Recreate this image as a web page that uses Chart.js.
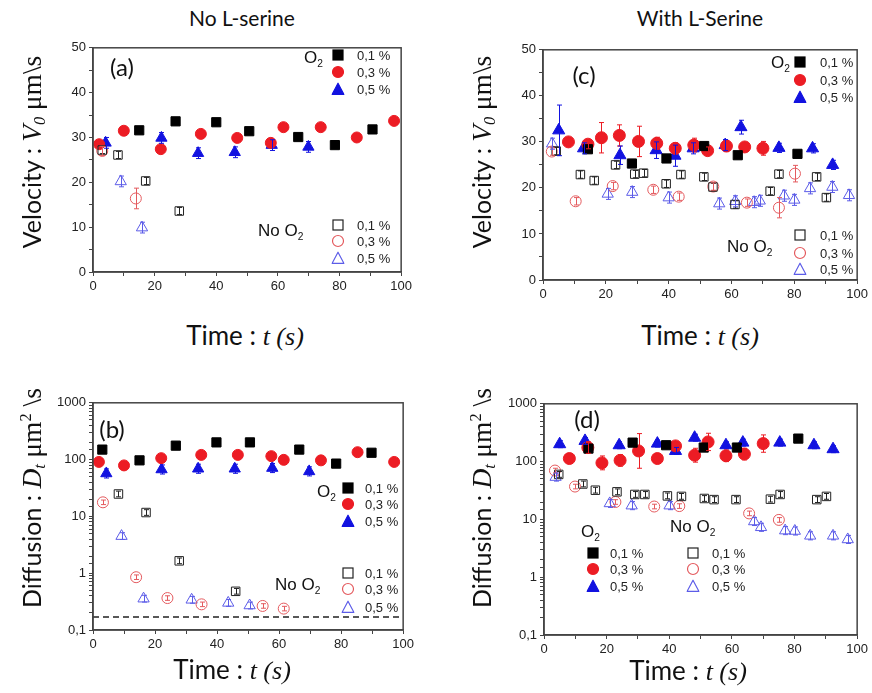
<!DOCTYPE html>
<html>
<head>
<meta charset="utf-8">
<script src="https://cdn.jsdelivr.net/npm/chart.js@4.4.0/dist/chart.umd.min.js"></script>
<style>
  body { margin: 0; background: #fff; width: 872px; height: 693px; overflow: hidden; position: relative; font-family: Lato, "Open Sans", sans-serif; color: #111; }
  canvas { position: absolute; }
  .t { position: absolute; white-space: nowrap; transform: translate(-50%, -50%); line-height: 1; }
  .title { font-size: 21px; }
  .xlab { font-size: 26px; }
  .ylab { font-size: 25px; transform: translate(-50%, -50%) rotate(-90deg); }
  .s { font-family: "Liberation Serif", "DejaVu Serif", serif; }
  .ylab .s { font-size: 1.1em; }
  .ylab sub, .xlab sub { font-size: 0.6em; vertical-align: -0.25em; }
  .ylab sup { font-size: 0.6em; vertical-align: 0.6em; }
  .letter { font-size: 24px; }
  .lg { position: absolute; font-family: "Liberation Sans", Arial, sans-serif; font-size: 13px; white-space: nowrap; line-height: 1; transform: translateY(-50%); color: #222; }
  .lgh { position: absolute; font-family: "Liberation Sans", Arial, sans-serif; font-size: 17px; white-space: nowrap; line-height: 1; transform: translateY(-50%); color: #111; }
  .lgh sub { font-size: 0.6em; vertical-align: -0.35em; }
  .mk { position: absolute; transform: translate(-50%, -50%); line-height: 0; }
</style>
</head>
<body>
<canvas id="chA" width="372" height="261" style="left:43px;top:37px"></canvas>
<canvas id="chC" width="378" height="267" style="left:493px;top:39px"></canvas>
<canvas id="chB" width="374" height="264" style="left:43px;top:392px"></canvas>
<canvas id="chD" width="377" height="268" style="left:494px;top:393px"></canvas>

<div class="t title" style="left:242px;top:17px">No L-serine</div>
<div class="t title" style="left:700px;top:17px">With L-Serine</div>

<div class="t ylab" style="left:33px;top:152px">Velocity : <i class="s">V<sub>0</sub></i> <span class="s">μm\s</span></div>
<div class="t ylab" style="left:483px;top:152px">Velocity : <i class="s">V<sub>0</sub></i> <span class="s">μm\s</span></div>
<div class="t ylab" style="left:33px;top:498px">Diffusion : <i class="s">D<sub>t</sub></i> <span class="s">μm<sup>2</sup> \s</span></div>
<div class="t ylab" style="left:483px;top:498px">Diffusion : <i class="s">D<sub>t</sub></i> <span class="s">μm<sup>2</sup> \s</span></div>

<div class="t xlab" style="left:245px;top:336px">Time : <i class="s">t (s)</i></div>
<div class="t xlab" style="left:700px;top:336px">Time : <i class="s">t (s)</i></div>
<div class="t xlab" style="left:232px;top:670px">Time : <i class="s">t (s)</i></div>
<div class="t xlab" style="left:688px;top:671px">Time : <i class="s">t (s)</i></div>

<div class="t letter" style="left:122px;top:67px">(a)</div>
<div class="t letter" style="left:584px;top:75px">(c)</div>
<div class="t letter" style="left:112px;top:429px">(b)</div>
<div class="t letter" style="left:587px;top:419px">(d)</div>

<div id="legends"></div>

<script>
// ========== data : panel (a) velocity, no L-serine ==========
const A_O2_01 = [[15, 31.6], [26.8, 33.6], [40, 33.4], [50.7, 31.4], [66.6, 30.1], [78.5, 28.3], [90.7, 31.8]];
const A_O2_03 = [[2, 28.5], [10, 31.5], [22, 27.4], [35, 30.8], [46.8, 29.9], [57.7, 28.8], [61.8, 32.3], [73.9, 32.3], [85.6, 30], [97.7, 33.7]];
const A_O2_05 = [[4.1, 28.8], [22.2, 29.9], [34.1, 26.5], [46, 26.7], [58, 28.3], [69.9, 27.9]];
const A_NO_01 = [[3, 27.2], [8.1, 26.1], [17.1, 20.3], [28, 13.6]];
const A_NO_03 = [[3, 27], [13.9, 16.4]];
const A_NO_05 = [[9, 20.2], [15.9, 9.9]];
const A_ERR_NO_03 = [1, 2.3];

// ========== data : panel (c) velocity, with L-serine ==========
const C_O2_01 = [[14.3, 28.4], [28.3, 25.3], [39.3, 26.4], [51.3, 29.1], [62, 27.1], [81, 27.4]];
const C_O2_03 = [[8.1, 30], [14.3, 29.5], [18.6, 30.9], [24.3, 31.4], [30.4, 30.1], [36.2, 29.7], [42.1, 28.6], [48, 29.3], [52.4, 28.1], [58.4, 29.1], [64.2, 28.9], [70, 28.6]];
const C_O2_05 = [[5, 32.5], [12.9, 28.6], [24.5, 27.1], [36, 28.2], [42, 27], [47.8, 28.6], [58, 29.3], [63, 33.2], [75.1, 28.7], [85.8, 28.6], [92.2, 25]];
const C_NO_01 = [[4.2, 28], [11.9, 22.9], [16.3, 21.6], [23.1, 25], [29.2, 23], [32, 23.2], [39.2, 20.9], [43.9, 22.9], [51.2, 22.4], [54.1, 20.2], [61.1, 16.4], [72.3, 19.3], [75.1, 23], [87.1, 22.4], [90.2, 17.9]];
const C_NO_03 = [[2.8, 27.9], [10.4, 17.1], [22.2, 20.4], [35.1, 19.6], [43.2, 18.1], [54.2, 20.3], [64.9, 16.8], [75.1, 15.7], [80.2, 23.1]];
const C_NO_05 = [[2.9, 29.6], [20.6, 18.7], [28.4, 19.1], [40, 17.9], [56.1, 16.6], [61.2, 17.1], [67.2, 16.9], [69, 17.2], [76.7, 18.3], [80, 17.4], [85, 19.9], [92.1, 20.2], [97.4, 18.4]];
const C_ERR_O2_03 = [0.8, 1, 3.3, 2.3, 3.3, 1.3, 1.2, 1.5, 0.8, 1.2, 0.8, 1.5];
const C_ERR_O2_05 = [5.5, 1.2, 2, 1.8, 2.3, 1.2, 1.2, 1.5, 1, 1, 1];
const C_ERR_NO_03 = [0.8, 0.8, 0.8, 0.8, 0.8, 0.8, 0.8, 2.2, 1.8];

// ========== data : panel (b) diffusion, no L-serine ==========
const B_O2_01 = [[3, 150], [15, 97], [26.7, 176], [39.8, 201], [50.6, 201], [66.5, 150], [78.4, 85], [89.8, 132]];
const B_O2_03 = [[1.9, 91], [10, 79], [22, 106], [34.9, 121], [46.7, 121], [57.5, 115], [61.5, 99], [73.5, 97], [85.3, 135], [97.1, 91]];
const B_O2_05 = [[4.3, 57], [22.1, 67], [33.9, 69], [45.7, 69], [57.8, 71], [69.7, 62]];
const B_NO_01 = [[8.2, 24.8], [17.1, 11.7], [27.8, 1.65], [46, 0.48]];
const B_NO_03 = [[3.2, 17.7], [13.9, 0.85], [24, 0.365], [35, 0.283], [54.7, 0.265], [61.5, 0.238]];
const B_NO_05 = [[9.2, 4.5], [16.3, 0.356], [31.8, 0.34], [43.6, 0.3], [50.5, 0.27]];
const B_FLOOR = 0.17;

// ========== data : panel (d) diffusion, with L-serine ==========
const D_O2_01 = [[14.2, 168], [28.3, 213], [39, 192], [51, 175], [61.6, 175], [81.2, 250]];
const D_O2_03 = [[8.1, 113], [14, 175], [18.5, 95], [24.3, 105], [30.2, 153], [36.2, 113], [42, 187], [48.1, 129], [52.4, 219], [58.1, 126], [64, 135], [70, 205]];
const D_O2_05 = [[5, 200], [13.1, 228], [24, 192], [36.2, 205], [42, 153], [48.1, 259], [58.1, 192], [63.5, 213], [75.3, 213], [86.2, 192], [92.3, 164]];
const D_NO_01 = [[4.7, 60], [12.4, 41], [16.4, 32], [23.3, 30], [29, 27], [32.2, 27], [39.4, 25.5], [43.9, 25], [51.2, 23], [54.3, 22], [61.3, 22], [72.3, 22.4], [75.4, 27], [87.1, 22], [90.2, 25]];
const D_NO_03 = [[3.5, 70], [9.9, 37], [22.8, 20], [35.2, 16.7], [43.2, 17], [65.5, 12.7], [75, 9.8]];
const D_NO_05 = [[3.7, 54], [21, 18.9], [28, 17.3], [40.1, 17.3], [67.1, 9.2], [69.3, 7.3], [77, 6.4], [80.1, 6.3], [85, 5.2], [92.3, 5.2], [97, 4.5]];
const D_ERR_O2_03 = [0.08, 0.1, 0.12, 0.1, 0.3, 0.08, 0.06, 0.12, 0.15, 0.1, 0.1, 0.15];

// ========== axis ticks ==========
const X_MIN = 0, X_MAX = 100, X_STEP = 10, X_LABEL_EVERY = 20;
const V_MIN = 0, V_MAX = 50, V_STEP = 5, V_LABEL_EVERY = 10;
const D_MIN = 0.1, D_MAX = 1000;

// ========== styles ==========
const BLACK = "#000000", RED = "#ec1c24", BLUE = "#1212e0";
const BLACK_O = "#222222", RED_O = "#e45a5e", BLUE_O = "#5c5ce8";
const AXIS = "#444444";
const TICK_FONT = { family: "'Liberation Sans', Arial, sans-serif", size: 13 };

const pts = (arr) => arr.map(([x, y]) => ({ x, y }));

function filled(data, shape, color, radius, err) {
  return { data: pts(data), pointStyle: shape, pointRadius: radius, backgroundColor: color,
    borderColor: color, borderWidth: 1, clip: false, err };
}
function open(data, shape, color, radius, err) {
  return { data: pts(data), pointStyle: shape, pointRadius: radius, backgroundColor: "rgba(255,255,255,0)",
    borderColor: color, borderWidth: 1, clip: false, err };
}

// ========== plugins ==========
const framePlugin = {
  id: "frame",
  afterDraw(chart) {
    const { ctx, chartArea: a } = chart;
    ctx.save();
    ctx.strokeStyle = AXIS;
    ctx.lineWidth = 1.5;
    ctx.strokeRect(a.left, a.top, a.right - a.left, a.bottom - a.top);
    ctx.restore();
  },
};

// err is absolute on linear axes, in decades on log axes
const errorBarPlugin = {
  id: "errbars",
  afterDatasetsDraw(chart) {
    const { ctx } = chart;
    const xs = chart.scales.x, ys = chart.scales.y;
    const isLog = ys.type === "logarithmic";
    chart.data.datasets.forEach((ds) => {
      if (ds.err == null) return;
      ctx.save();
      ctx.strokeStyle = ds.borderColor;
      ctx.lineWidth = 1;
      ds.data.forEach((p, i) => {
        const e = Array.isArray(ds.err) ? ds.err[i] : ds.err;
        const lo = isLog ? p.y / Math.pow(10, e) : p.y - e;
        const hi = isLog ? p.y * Math.pow(10, e) : p.y + e;
        const px = Math.round(xs.getPixelForValue(p.x)) + 0.5;
        const y1 = ys.getPixelForValue(lo), y2 = ys.getPixelForValue(hi);
        ctx.beginPath();
        ctx.moveTo(px, y1); ctx.lineTo(px, y2);
        ctx.moveTo(px - 2.5, y1); ctx.lineTo(px + 2.5, y1);
        ctx.moveTo(px - 2.5, y2); ctx.lineTo(px + 2.5, y2);
        ctx.stroke();
      });
      ctx.restore();
    });
  },
};

// ========== chart factory ==========
function xAxis() {
  return {
    type: "linear", min: X_MIN, max: X_MAX,
    ticks: { stepSize: X_STEP, autoSkip: false, maxRotation: 0, padding: 3, color: "#222", font: TICK_FONT,
      callback: (v) => (v % X_LABEL_EVERY === 0 ? v : "") },
    grid: { drawOnChartArea: false, tickLength: 4, color: AXIS },
    border: { color: AXIS, width: 1.5 },
    afterFit: (s) => { s.height = 26; },
  };
}
function velAxis() {
  return {
    type: "linear", min: V_MIN, max: V_MAX,
    ticks: { stepSize: V_STEP, autoSkip: false, padding: 3, color: "#222", font: TICK_FONT,
      callback: (v) => (v % V_LABEL_EVERY === 0 ? v : "") },
    grid: { drawOnChartArea: false, tickLength: 4, color: AXIS },
    border: { color: AXIS, width: 1.5 },
    afterFit: (s) => { s.width = 50; },
  };
}
function difAxis() {
  return {
    type: "logarithmic", min: D_MIN, max: D_MAX,
    ticks: { autoSkip: false, padding: 3, color: "#222", font: TICK_FONT,
      callback: (v) => {
        const l = Math.log10(v);
        if (Math.abs(l - Math.round(l)) > 1e-6) return "";
        return v < 1 ? String(v).replace(".", ",") : String(Math.round(v));
      } },
    grid: { drawOnChartArea: false, tickLength: 4, color: AXIS },
    border: { color: AXIS, width: 1.5 },
    afterFit: (s) => { s.width = 50; },
  };
}

function makePanel(id, datasets, yAxis) {
  return new Chart(document.getElementById(id), {
    type: "scatter",
    data: { datasets },
    options: {
      responsive: false,
      animation: false,
      events: [],
      layout: { padding: { top: 8, right: 12, left: 0, bottom: 0 } },
      plugins: { legend: { display: false }, tooltip: { enabled: false } },
      scales: { x: xAxis(), y: yAxis },
    },
    plugins: [errorBarPlugin, framePlugin],
  });
}

// ========== panels ==========
makePanel("chA", [
  open(A_NO_01, "rect", BLACK_O, 6, 0.8),
  open(A_NO_03, "circle", RED_O, 5.5, A_ERR_NO_03),
  open(A_NO_05, "triangle", BLUE_O, 6.5, 1.2),
  filled(A_O2_01, "rect", BLACK, 6.5),
  filled(A_O2_03, "circle", RED, 5.5),
  filled(A_O2_05, "triangle", BLUE, 6.5, 1.2),
], velAxis());

makePanel("chC", [
  open(C_NO_01, "rect", BLACK_O, 6, 0.8),
  open(C_NO_03, "circle", RED_O, 5.5, C_ERR_NO_03),
  open(C_NO_05, "triangle", BLUE_O, 6.5, 1.2),
  filled(C_O2_01, "rect", BLACK, 6.5),
  filled(C_O2_03, "circle", RED, 6, C_ERR_O2_03),
  filled(C_O2_05, "triangle", BLUE, 7, C_ERR_O2_05),
], velAxis());

makePanel("chB", [
  { data: [{ x: X_MIN, y: B_FLOOR }, { x: X_MAX, y: B_FLOOR }], showLine: true, pointRadius: 0,
    borderColor: "#222", borderWidth: 1.5, borderDash: [6, 4] },
  open(B_NO_01, "rect", BLACK_O, 6, 0.05),
  open(B_NO_03, "circle", RED_O, 5.5, 0.04),
  open(B_NO_05, "triangle", BLUE_O, 6.5, 0.06),
  filled(B_O2_01, "rect", BLACK, 6.5),
  filled(B_O2_03, "circle", RED, 5.5),
  filled(B_O2_05, "triangle", BLUE, 6.5, 0.08),
], difAxis());

makePanel("chD", [
  open(D_NO_01, "rect", BLACK_O, 6, 0.05),
  open(D_NO_03, "circle", RED_O, 5.5, 0.04),
  open(D_NO_05, "triangle", BLUE_O, 6.5, 0.07),
  filled(D_O2_01, "rect", BLACK, 6.5),
  filled(D_O2_03, "circle", RED, 6, D_ERR_O2_03),
  filled(D_O2_05, "triangle", BLUE, 7, 0.06),
], difAxis());

// ========== legends ==========
const LEVELS = ["0,1 %", "0,3 %", "0,5 %"];
const SHAPES = ["rect", "circle", "triangle"];
const FILLED_COLORS = [BLACK, RED, BLUE];
const OPEN_COLORS = [BLACK_O, RED_O, BLUE_O];

function markerSvg(shape, color, isFilled) {
  const fill = isFilled ? color : "none";
  let body;
  if (shape === "rect") body = `<rect x="1.5" y="1.5" width="10" height="10" fill="${fill}" stroke="${color}" stroke-width="1.2"/>`;
  else if (shape === "circle") body = `<circle cx="6.5" cy="6.5" r="5.5" fill="${fill}" stroke="${color}" stroke-width="1.2"/>`;
  else body = `<polygon points="6.5,0.8 12.4,11.8 0.6,11.8" fill="${fill}" stroke="${color}" stroke-width="1.2"/>`;
  return `<svg width="13" height="13" viewBox="0 0 13 13">${body}</svg>`;
}

function legendBlock(head, headX, headY, markX, textX, rowsY, isFilled) {
  let html = `<div class="lgh" style="left:${headX}px;top:${headY}px">${head}</div>`;
  rowsY.forEach((y, i) => {
    const col = isFilled ? FILLED_COLORS[i] : OPEN_COLORS[i];
    html += `<div class="mk" style="left:${markX}px;top:${y}px">${markerSvg(SHAPES[i], col, isFilled)}</div>`;
    html += `<div class="lg" style="left:${textX}px;top:${y}px">${LEVELS[i]}</div>`;
  });
  return html;
}

const O2 = "O<sub>2</sub>", NO_O2 = "No O<sub>2</sub>";
document.getElementById("legends").innerHTML =
  legendBlock(O2, 304, 59, 338, 357, [55, 72, 89], true) +
  legendBlock(NO_O2, 258, 232, 338, 357, [225, 241, 258], false) +
  legendBlock(O2, 771, 64, 800, 820, [62, 80, 97], true) +
  legendBlock(NO_O2, 727, 248, 800, 820, [235, 253, 269], false) +
  legendBlock(O2, 317, 493, 348, 365, [488, 504, 521], true) +
  legendBlock(NO_O2, 275, 586, 348, 365, [573, 589, 607], false) +
  legendBlock(O2, 581, 533, 593, 610, [553, 569, 586], true) +
  legendBlock(NO_O2, 670, 528, 693, 712, [553, 569, 586], false);
</script>
</body>
</html>
